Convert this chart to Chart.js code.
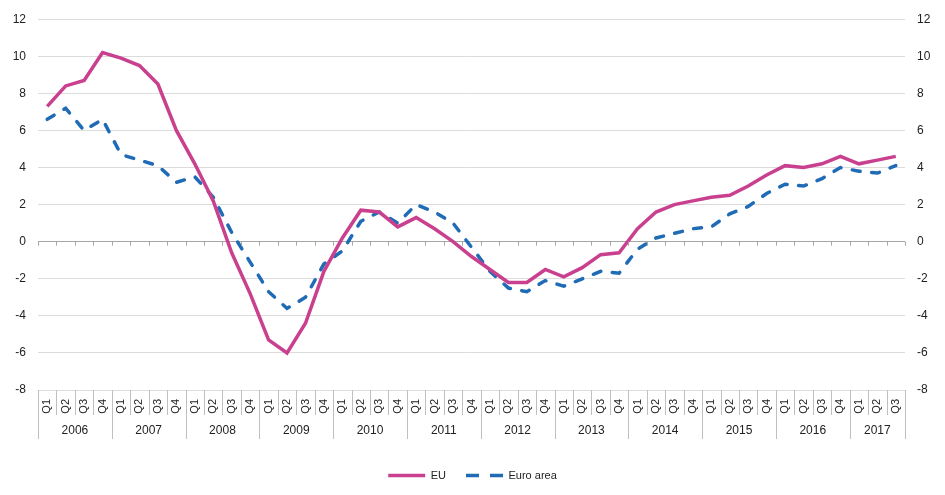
<!DOCTYPE html>
<html>
<head>
<meta charset="utf-8">
<script src="https://cdn.jsdelivr.net/npm/chart.js@4/dist/chart.umd.min.js"></script>
<style>
    html, body { margin: 0; padding: 0; background: #fff; }
    #wrap { width: 945px; height: 495px; }
</style>
</head>
<body>
<div id="wrap"><canvas id="chart"></canvas></div>
<script>
const years = ['2006', '2007', '2008', '2009', '2010', '2011', '2012', '2013', '2014', '2015', '2016', '2017'];
const quarters = ['Q1', 'Q2', 'Q3', 'Q4'];

const euValues = [7.3, 8.4, 8.7, 10.2, 9.9, 9.5, 8.5, 6.0, 4.2, 2.2,
    -0.6, -2.8, -5.3, -6.0, -4.4, -1.6, 0.2, 1.7, 1.6, 0.8,
    1.3, 0.7, 0.0, -0.8, -1.5, -2.2, -2.2, -1.5, -1.9, -1.4,
    -0.7, -0.6, 0.7, 1.6, 2.0, 2.2, 2.4, 2.5, 3.0, 3.6,
    4.1, 4.0, 4.2, 4.6, 4.2, 4.4, 4.6];
const euroValues = [6.6, 7.2, 6.0, 6.6, 4.7, 4.4, 4.1, 3.2, 3.5, 2.4,
    0.5, -1.1, -2.7, -3.6, -3.0, -1.2, -0.5, 1.1, 1.6, 1.0,
    2.0, 1.6, 1.0, -0.3, -1.6, -2.5, -2.7, -2.1, -2.4, -2.0,
    -1.6, -1.7, -0.4, 0.2, 0.45, 0.7, 0.8, 1.5, 1.9, 2.6,
    3.1, 3.0, 3.4, 4.0, 3.8, 3.7, 4.1];

const yMin = -8;
const yMax = 12;
const yStep = 2;

// quarter labels, one per point (last year stops at Q3)
let labels = [];
for (let i = 0; i < euValues.length; i++) {
    labels.push(quarters[i % 4]);
}

const font = "'Liberation Sans', Arial, sans-serif";

// draws the year row, the separators and the little ticks on the zero line
const yearRows = {
    id: 'yearRows',
    afterDraw(chart) {
        const ctx = chart.ctx;
        const x = chart.scales.x;
        const y = chart.scales.y;
        const n = labels.length;
        const w = (x.right - x.left) / n;
        const bottom = chart.chartArea.bottom;
        const zero = y.getPixelForValue(0);

        ctx.save();
        ctx.lineWidth = 1;
        ctx.strokeStyle = '#a6a6a6';
        for (let i = 0; i <= n; i++) {
            let px = Math.round(x.left + i * w) + 0.5;
            ctx.beginPath();
            ctx.moveTo(px, zero);
            ctx.lineTo(px, zero + 4);
            ctx.stroke();
        }

        ctx.strokeStyle = '#c0c0c0';
        for (let i = 0; i <= n; i++) {
            let px = Math.round(x.left + i * w) + 0.5;
            let yearEdge = (i % 4 === 0) || i === n;
            ctx.beginPath();
            ctx.moveTo(px, bottom);
            ctx.lineTo(px, bottom + (yearEdge ? 49 : 25));
            ctx.stroke();
        }

        ctx.fillStyle = '#222';
        ctx.font = '12px ' + font;
        ctx.textAlign = 'center';
        ctx.textBaseline = 'middle';
        for (let k = 0; k < years.length; k++) {
            let first = k * 4;
            let last = Math.min(first + 4, n);
            if (first >= n) break;
            let cx = x.left + (first + last) / 2 * w;
            ctx.fillText(years[k], cx, bottom + 41);
        }
        ctx.restore();
    }
};

const data = {
    labels: labels,
    datasets: [{
            label: 'EU',
            data: euValues,
            borderColor: '#c9408f',
            backgroundColor: '#c9408f',
            borderWidth: 3.5,
            pointRadius: 0,
            tension: 0
        }, {
            label: 'Euro area',
            data: euroValues,
            borderColor: '#1f6bb5',
            backgroundColor: '#1f6bb5',
            borderWidth: 3.5,
            borderDash: [8, 11.5],
            borderCapStyle: 'round',
            pointRadius: 0,
            tension: 0
        }]
};

const legendDash = [[], [13, 11]];

const config = {
    type: 'line',
    data: data,
    plugins: [yearRows],
    options: {
        responsive: true,
        maintainAspectRatio: false,
        animation: false,
        layout: { padding: { top: 14, bottom: 4, left: 0, right: 0 } },
        plugins: {
            tooltip: { enabled: false },
            legend: {
                position: 'bottom',
                labels: {
                    usePointStyle: true,
                    pointStyle: 'line',
                    pointStyleWidth: 37,
                    boxHeight: 11,
                    padding: 20,
                    color: '#222',
                    font: { family: font, size: 11 },
                    generateLabels(chart) {
                        return chart.data.datasets.map((ds, i) => ({
                            text: ds.label,
                            fillStyle: ds.borderColor,
                            strokeStyle: ds.borderColor,
                            lineWidth: 3.5,
                            lineDash: legendDash[i],
                            pointStyle: 'line',
                            fontColor: '#222',
                            hidden: false,
                            datasetIndex: i
                        }));
                    }
                }
            }
        },
        scales: {
            x: {
                offset: true,
                grid: { display: false, drawTicks: false },
                border: { display: false },
                ticks: {
                    autoSkip: false,
                    minRotation: 90,
                    maxRotation: 90,
                    padding: 9,
                    color: '#222',
                    font: { family: font, size: 11 }
                },
                afterFit(scale) { scale.height = 60; }
            },
            y: {
                position: 'left',
                min: yMin,
                max: yMax,
                border: { display: false },
                grid: {
                    drawTicks: false,
                    color: (c) => c.tick && c.tick.value === 0 ? '#a6a6a6' : '#dcdcdc'
                },
                ticks: {
                    stepSize: yStep,
                    padding: 12,
                    color: '#222',
                    font: { family: font, size: 12 }
                },
                afterFit(scale) { scale.width = 38; }
            },
            y2: {
                position: 'right',
                min: yMin,
                max: yMax,
                border: { display: false },
                grid: { drawOnChartArea: false, drawTicks: false },
                ticks: {
                    stepSize: yStep,
                    padding: 12,
                    color: '#222',
                    font: { family: font, size: 12 }
                },
                afterFit(scale) { scale.width = 40; }
            }
        }
    }
};

let idChart = document.getElementById('chart').getContext('2d');
new Chart(idChart, config);
</script>
</body>
</html>
